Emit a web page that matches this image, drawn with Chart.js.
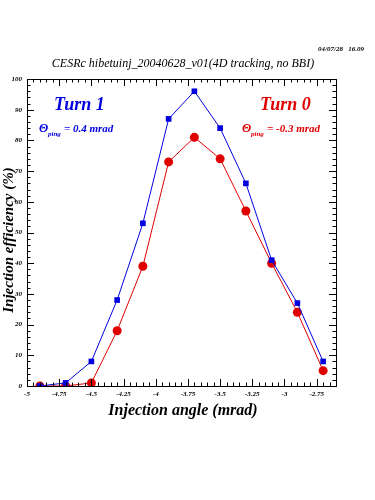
<!DOCTYPE html>
<html>
<head>
<meta charset="utf-8">
<script src="https://cdn.jsdelivr.net/npm/chart.js@4"></script>
<style>
  body { margin: 0; background: #fff; }
  #wrap { width: 375px; height: 500px; position: relative; }
</style>
</head>
<body>
<div id="wrap"><canvas id="chart"></canvas></div>
<script>
// injection angle (mrad)
const angles = [-4.9, -4.7, -4.5, -4.3, -4.1, -3.9, -3.7, -3.5, -3.3, -3.1, -2.9, -2.7];
// efficiency (%)
const turn1 = [0, 1, 8, 28, 53, 87, 96, 84, 66, 41, 27, 8];
const turn0 = [0, 0, 1, 18, 39, 73, 81, 74, 57, 40, 24, 5];
const xTicks = [-5, -4.75, -4.5, -4.25, -4, -3.75, -3.5, -3.25, -3, -2.75];
const yTicks = [0, 10, 20, 30, 40, 50, 60, 70, 80, 90, 100];

const titleText = "CESRc hibetuinj_20040628_v01(4D tracking, no BBI)";
const dateText = "04/07/28   16.09";

const serif = "'Liberation Serif', 'DejaVu Serif', serif";
const blue = "#0000e0";
const red = "#e00000";

const toPts = ys => angles.map((x, i) => ({ x: x, y: ys[i] }));

// inward ticks on all four sides + text decorations
const framePlugin = {
  id: "frame",
  afterDraw(chart) {
    const c = chart.ctx;
    const a = chart.chartArea;
    const xs = chart.scales.x, ys = chart.scales.y;
    c.save();
    c.strokeStyle = "#000";
    c.lineWidth = 1;
    c.strokeRect(a.left + 0.5, a.top + 0.5, a.right - a.left, a.bottom - a.top);
    c.beginPath();
    for (let v = -5; v <= -2.6 + 1e-9; v += 0.05) {
      const major = Math.abs(v * 4 - Math.round(v * 4)) < 1e-6;
      const len = major ? 7 : 3.5;
      const px = Math.round(xs.getPixelForValue(v)) + 0.5;
      c.moveTo(px, a.bottom); c.lineTo(px, a.bottom - len);
      c.moveTo(px, a.top); c.lineTo(px, a.top + len);
    }
    for (let v = 0; v <= 100; v += 2) {
      const len = v % 10 === 0 ? 7 : 3.5;
      const py = Math.round(ys.getPixelForValue(v)) + 0.5;
      c.moveTo(a.left, py); c.lineTo(a.left + len, py);
      c.moveTo(a.right, py); c.lineTo(a.right - len, py);
    }
    c.stroke();

    // title and date
    c.fillStyle = "#000";
    c.textAlign = "center";
    c.textBaseline = "alphabetic";
    c.font = "italic 12px " + serif;
    c.fillText(titleText, 183, 67);
    c.textAlign = "right";
    c.font = "bold italic 7px " + serif;
    c.fillText(dateText, 364, 51);

    // axis titles
    c.textAlign = "center";
    c.font = "bold italic 16px " + serif;
    c.fillText("Injection angle (mrad)", 183, 415);
    c.save();
    c.translate(13, 240);
    c.rotate(-Math.PI / 2);
    c.font = "bold italic 15px " + serif;
    c.fillText("Injection efficiency (%)", 0, 0);
    c.restore();

    // annotations
    c.textAlign = "left";
    c.fillStyle = blue;
    c.font = "bold italic 18px " + serif;
    c.fillText("Turn 1", 54, 110);
    c.font = "bold italic 12px " + serif;
    c.fillText("\u0398", 39, 132);
    c.font = "bold italic 7px " + serif;
    c.fillText("ping", 48, 136);
    c.font = "bold italic 11px " + serif;
    c.fillText("= 0.4 mrad", 64, 132);

    c.fillStyle = red;
    c.font = "bold italic 18px " + serif;
    c.fillText("Turn 0", 260, 110);
    c.font = "bold italic 12px " + serif;
    c.fillText("\u0398", 242, 132);
    c.font = "bold italic 7px " + serif;
    c.fillText("ping", 251, 136);
    c.font = "bold italic 11px " + serif;
    c.fillText("= -0.3 mrad", 267, 132);
    c.restore();
  }
};

new Chart(document.getElementById("chart"), {
  type: "scatter",
  data: {
    datasets: [
      {
        label: "Turn 0",
        data: toPts(turn0),
        showLine: true,
        borderColor: red,
        backgroundColor: red,
        borderWidth: 1,
        pointStyle: "circle",
        pointRadius: 4.5,
        pointBorderWidth: 0,
        order: 2
      },
      {
        label: "Turn 1",
        data: toPts(turn1),
        showLine: true,
        borderColor: blue,
        backgroundColor: blue,
        borderWidth: 1,
        pointStyle: "rect",
        pointRadius: 4,
        pointBorderWidth: 0,
        order: 1
      }
    ]
  },
  options: {
    responsive: true,
    maintainAspectRatio: false,
    animation: false,
    layout: { padding: { top: 79, right: 39, left: 0, bottom: 0 } },
    plugins: {
      legend: { display: false },
      tooltip: { enabled: false }
    },
    scales: {
      x: {
        type: "linear",
        min: -5,
        max: -2.6,
        afterBuildTicks: s => { s.ticks = xTicks.map(v => ({ value: v })); },
        afterFit: s => { s.height = 114; },
        grid: { display: false, drawTicks: false },
        border: { display: false },
        ticks: {
          color: "#000",
          padding: 4,
          maxRotation: 0,
          font: { family: serif, size: 7, style: "italic", weight: "bold" },
          callback: v => String(v)
        }
      },
      y: {
        min: 0,
        max: 100,
        afterBuildTicks: s => { s.ticks = yTicks.map(v => ({ value: v })); },
        afterFit: s => { s.width = 27; },
        grid: { display: false, drawTicks: false },
        border: { display: false },
        ticks: {
          color: "#000",
          padding: 5,
          font: { family: serif, size: 7, style: "italic", weight: "bold" },
          callback: v => String(v)
        }
      }
    }
  },
  plugins: [framePlugin]
});
</script>
</body>
</html>
